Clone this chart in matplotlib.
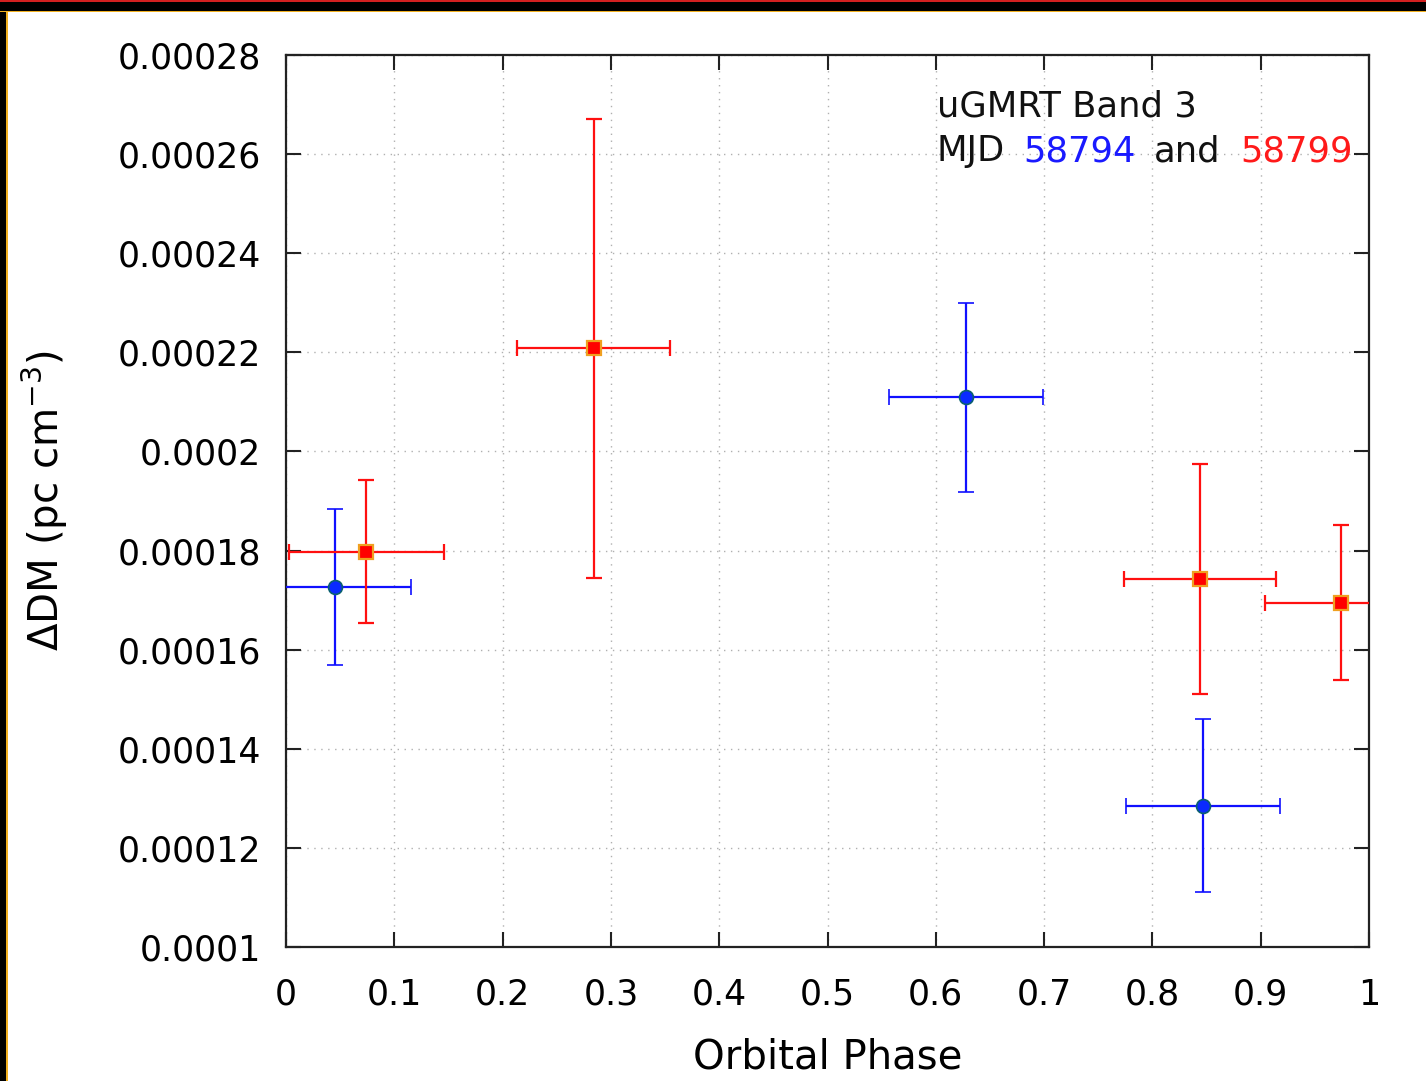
import matplotlib
matplotlib.use("Agg")
import matplotlib.pyplot as plt
from matplotlib.patches import Rectangle

# MJD 58794 (blue)
phase_a = [0.045, 0.628, 0.847]
phase_a_err = [0.070, 0.071, 0.071]
ddm_a = [0.0001727, 0.0002109, 0.0001285]
ddm_a_err = [0.0000157, 0.0000191, 0.0000175]

# MJD 58799 (red)
phase_b = [0.074, 0.284, 0.844, 0.974]
phase_b_err = [0.0715, 0.071, 0.0705, 0.070]
ddm_b = [0.0001798, 0.0002208, 0.0001743, 0.0001695]
ddm_b_err = [0.0000145, 0.0000464, 0.0000232, 0.0000156]

xticks = [0, 0.1, 0.2, 0.3, 0.4, 0.5, 0.6, 0.7, 0.8, 0.9, 1.0]
xtick_labels = ["0", "0.1", "0.2", "0.3", "0.4", "0.5", "0.6", "0.7", "0.8", "0.9", "1"]
yticks = [0.0001, 0.00012, 0.00014, 0.00016, 0.00018, 0.0002, 0.00022, 0.00024, 0.00026, 0.00028]
ytick_labels = ["0.0001", "0.00012", "0.00014", "0.00016", "0.00018", "0.0002",
                "0.00022", "0.00024", "0.00026", "0.00028"]

plt.rcParams["font.family"] = ["DejaVu Sans"]

fig = plt.figure(figsize=(14.26, 10.81), dpi=100)
ax = fig.add_axes([0.2006, 0.124, 0.7594, 0.825])

# window frame along top and left edges
fig.patches.append(Rectangle((0, 1 - 11 / 1081), 1, 11 / 1081, transform=fig.transFigure,
                             facecolor="black", edgecolor="none", zorder=0))
fig.patches.append(Rectangle((0, 1 - 2 / 1081), 1, 2 / 1081, transform=fig.transFigure,
                             facecolor="#d42020", edgecolor="none", zorder=1))
fig.patches.append(Rectangle((0, 1 - 12 / 1081), 1, 1.5 / 1081, transform=fig.transFigure,
                             facecolor="#f0b020", edgecolor="none", zorder=1))
fig.patches.append(Rectangle((0, 0), 6 / 1426, 1, transform=fig.transFigure,
                             facecolor="black", edgecolor="none", zorder=0))
fig.patches.append(Rectangle((6 / 1426, 0), 1.5 / 1426, 1 - 11 / 1081, transform=fig.transFigure,
                             facecolor="#f0b020", edgecolor="none", zorder=1))

ax.errorbar(phase_a, ddm_a, xerr=phase_a_err, yerr=ddm_a_err, fmt="o", color="#1010ff",
            ecolor="#1010ff", elinewidth=1.6, capsize=6, capthick=1.6, markersize=10,
            markerfacecolor="#0a2aff", markeredgecolor="#0a6070", markeredgewidth=1.2,
            zorder=3, clip_on=True)
ax.errorbar(phase_b, ddm_b, xerr=phase_b_err, yerr=ddm_b_err, fmt="s", color="#ff1010",
            ecolor="#ff1010", elinewidth=1.6, capsize=6, capthick=1.6, markersize=10,
            markerfacecolor="#ff0000", markeredgecolor="#f0a020", markeredgewidth=1.6,
            zorder=4, clip_on=True)

ax.set_xlim(0, 1)
ax.set_ylim(0.0001, 0.00028)
ax.set_xticks(xticks)
ax.set_xticklabels(xtick_labels)
ax.set_yticks(yticks)
ax.set_yticklabels(ytick_labels)
ax.tick_params(axis="both", which="major", direction="in", length=11, width=1.5,
               top=True, right=True, labelsize=25, color="#222222")
ax.tick_params(axis="x", pad=22)
ax.tick_params(axis="y", pad=18)
for s in ax.spines.values():
    s.set_linewidth(1.6)
    s.set_color("#222222")
ax.grid(True, linestyle=(0, (1, 4)), color="#b0b0b0", linewidth=1.0)
ax.set_axisbelow(True)

ax.set_xlabel("Orbital Phase", fontsize=29, labelpad=19)
ax.set_ylabel(r"$\Delta$DM (pc cm$^{-3}$)", fontsize=29, labelpad=34)

fs = 25.5
ax.text(0.601, 0.0002697, "uGMRT Band 3", fontsize=fs, color="#111111", va="center", ha="left")
ax.text(0.601, 0.0002606, "MJD", fontsize=fs, color="#111111", va="center", ha="left")
ax.text(0.681, 0.0002606, "58794", fontsize=fs, color="#1a1aff", va="center", ha="left")
ax.text(0.8015, 0.0002606, "and", fontsize=fs, color="#111111", va="center", ha="left")
ax.text(0.881, 0.0002606, "58799", fontsize=fs, color="#ff1a1a", va="center", ha="left")

fig.savefig("out.png", dpi=100, facecolor="white")
